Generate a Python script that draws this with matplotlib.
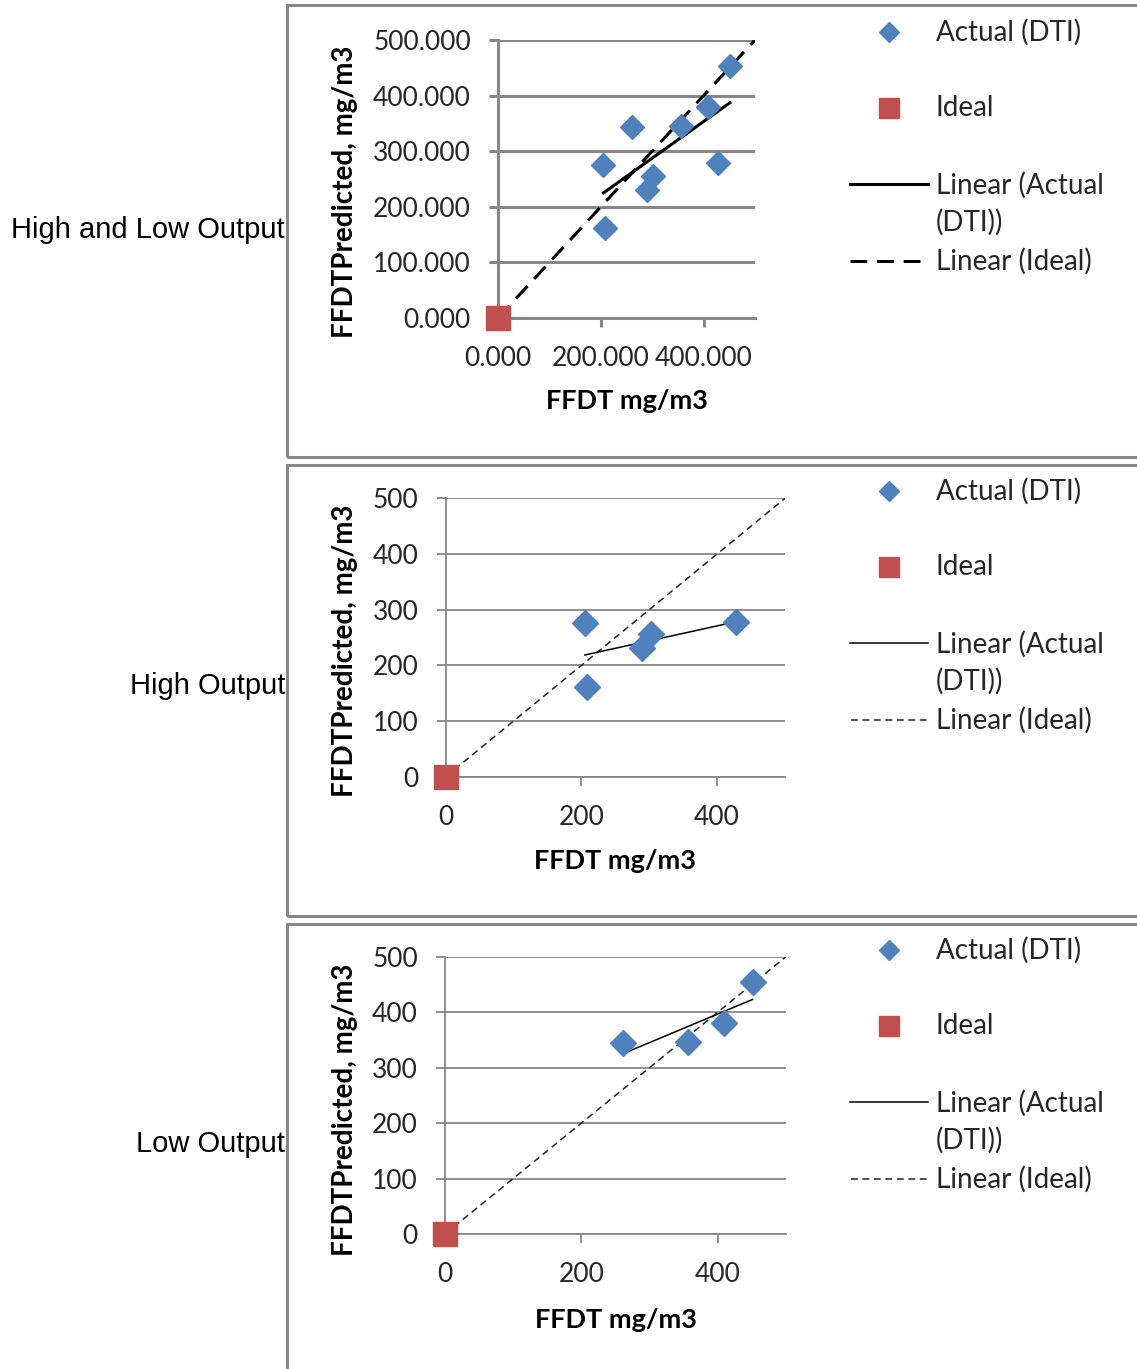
import numpy as np
import matplotlib
matplotlib.use("Agg")
import matplotlib.pyplot as plt
from matplotlib.lines import Line2D
from matplotlib.patches import Rectangle
from matplotlib.ticker import FixedLocator, FuncFormatter

# ---- data -------------------------------------------------------------
high_ffdt = [205, 208, 289, 302, 428]
high_pred = [276, 161, 231, 256, 278]
low_ffdt = [261, 357, 409, 451]
low_pred = [344, 346, 380, 454]
ideal_x = [0]
ideal_y = [0]
ideal_line = [0, 500]          # 1:1 reference line
y_ticks = [0, 100, 200, 300, 400, 500]
x_ticks = [0, 200, 400]
row_labels = ["High and Low Output", "High Output", "Low Output"]
legend_labels = ["Actual (DTI)", "Ideal", "Linear (Actual\n(DTI))", "Linear (Ideal)"]
x_title = "FFDT mg/m3"
y_title = "FFDTPredicted, mg/m3"

W, H = 1137, 1369
BLUE = "#4F81BD"
RED = "#C0504D"
GRID = "#878787"
TEXT = "#262626"
FONT = "Lato"

fig = plt.figure(figsize=(W / 100, H / 100), dpi=100)
fig.patch.set_facecolor("white")


def fx(x):
    return x / W


def fy(y):
    return 1 - y / H


panels = [
    dict(x=high_ffdt + low_ffdt, y=high_pred + low_pred, fmt="{:.3f}",
         axbox=(498, 40, 755, 318), frame=(286.5, 5.5, 1145, 456.5), label_y=230,
         heavy=True, ylab=(345, 192), xlab_y=401, leg_top=32),
    dict(x=high_ffdt, y=high_pred, fmt="{:.0f}",
         axbox=(445.7, 498.3, 785, 776.7), frame=(286.5, 464.5, 1145, 915.5), label_y=686,
         heavy=False, ylab=(345, 651), xlab_y=861, leg_top=491),
    dict(x=low_ffdt, y=low_pred, fmt="{:.0f}",
         axbox=(445, 956.7, 786, 1234), frame=(286.5, 923.5, 1145, 1380), label_y=1144,
         heavy=False, ylab=(345, 1110), xlab_y=1320, leg_top=950),
]

for i, p in enumerate(panels):
    # outer chart frame
    fl, ft, fr, fb = p["frame"]
    fig.add_artist(Rectangle((fx(fl), fy(fb)), fx(fr - fl), (fb - ft) / H,
                             transform=fig.transFigure, fill=False,
                             edgecolor=GRID, linewidth=2.2, zorder=0))

    # row label on the left
    fig.text(fx(285), fy(p["label_y"]), row_labels[i], ha="right", va="center",
             fontsize=21, family="Liberation Sans", color="black")

    l, t, r, b = p["axbox"]
    ax = fig.add_axes([fx(l), fy(b), fx(r - l), (b - t) / H])
    ax.set_xlim(0, 500)
    ax.set_ylim(0, 500)

    glw = 2.2 if p["heavy"] else 1.3
    tlw = 2.2 if p["heavy"] else 1.1
    ax.yaxis.set_major_locator(FixedLocator(y_ticks))
    ax.xaxis.set_major_locator(FixedLocator(x_ticks))
    fmt = p["fmt"]
    ax.yaxis.set_major_formatter(FuncFormatter(lambda v, _, f=fmt: f.format(v)))
    ax.xaxis.set_major_formatter(FuncFormatter(lambda v, _, f=fmt: f.format(v)))
    ax.grid(axis="y", color=GRID, linewidth=glw, zorder=0)
    for s in ["top", "right"]:
        ax.spines[s].set_visible(False)
    ax.spines["left"].set_color(GRID)
    ax.spines["left"].set_linewidth(glw)
    ax.spines["bottom"].set_color(GRID)
    ax.spines["bottom"].set_linewidth(glw)
    ax.tick_params(axis="both", colors=GRID, length=6.5, width=glw,
                   labelcolor=TEXT, labelsize=19)
    ax.tick_params(axis="y", pad=13)
    ax.tick_params(axis="x", pad=14)
    for lab in ax.get_xticklabels() + ax.get_yticklabels():
        lab.set_family(FONT)

    # 1:1 reference line
    if p["heavy"]:
        ax.plot(ideal_line, ideal_line, color="black", linewidth=2.2,
                dashes=(5.5, 3.2), zorder=3)
    else:
        ax.plot(ideal_line, ideal_line, color="#222222", linewidth=1.1,
                dashes=(4.5, 3.0), zorder=3)

    # least-squares trend of the actual points
    xs = np.array(p["x"], dtype=float)
    ys = np.array(p["y"], dtype=float)
    k, c = np.polyfit(xs, ys, 1)
    xr = np.array([xs.min(), xs.max()])
    ax.plot(xr, k * xr + c, color="black", linewidth=tlw, zorder=4)

    ms = 12 if p["heavy"] else 13
    ax.plot(xs, ys, linestyle="none", marker="D", markersize=ms,
            color=BLUE, markeredgecolor=BLUE, zorder=5, clip_on=False)
    ax.plot(ideal_x, ideal_y, linestyle="none", marker="s", markersize=17,
            color=RED, markeredgecolor=RED, zorder=6, clip_on=False)

    ylx, yly = p["ylab"]
    ax.set_ylabel(y_title, fontsize=20, fontweight="bold", family=FONT,
                  va="center", color="black")
    ax.yaxis.set_label_coords((ylx - l) / (r - l), (b - yly) / (b - t))
    ax.set_xlabel(x_title, fontsize=19.5, fontweight="bold", family=FONT,
                  va="center", color="black")
    ax.xaxis.set_label_coords(0.5, (b - p["xlab_y"]) / (b - t))

    # legend block on the right
    lt = p["leg_top"]
    tx = 936
    fs = 20
    fig.add_artist(Line2D([fx(889)], [fy(lt)], transform=fig.transFigure,
                          marker="D", markersize=10, color=BLUE, linestyle="none"))
    fig.text(fx(tx), fy(lt), legend_labels[0], ha="left", va="center",
             fontsize=fs, family=FONT, color=TEXT)
    fig.add_artist(Line2D([fx(889)], [fy(lt + 76)], transform=fig.transFigure,
                          marker="s", markersize=14, color=RED, linestyle="none"))
    fig.text(fx(tx), fy(lt + 76), legend_labels[1], ha="left", va="center",
             fontsize=fs, family=FONT, color=TEXT)
    fig.add_artist(Line2D([fx(850), fx(928)], [fy(lt + 152)] * 2,
                          transform=fig.transFigure, color="black",
                          linewidth=2.2 if p["heavy"] else 1.1))
    for j, part in enumerate(legend_labels[2].split("\n")):
        fig.text(fx(tx), fy(lt + 153 + 37 * j), part, ha="left", va="center",
                 fontsize=fs, family=FONT, color=TEXT)
    if p["heavy"]:
        fig.add_artist(Line2D([fx(850), fx(928)], [fy(lt + 229)] * 2,
                              transform=fig.transFigure, color="black",
                              linewidth=2.2, dashes=(5.5, 3.2)))
    else:
        fig.add_artist(Line2D([fx(851), fx(928)], [fy(lt + 229)] * 2,
                              transform=fig.transFigure, color="#222222",
                              linewidth=1.1, dashes=(4.5, 3.0)))
    fig.text(fx(tx), fy(lt + 229), legend_labels[3], ha="left", va="center",
             fontsize=fs, family=FONT, color=TEXT)

fig.savefig("out.png", dpi=100, facecolor="white")
